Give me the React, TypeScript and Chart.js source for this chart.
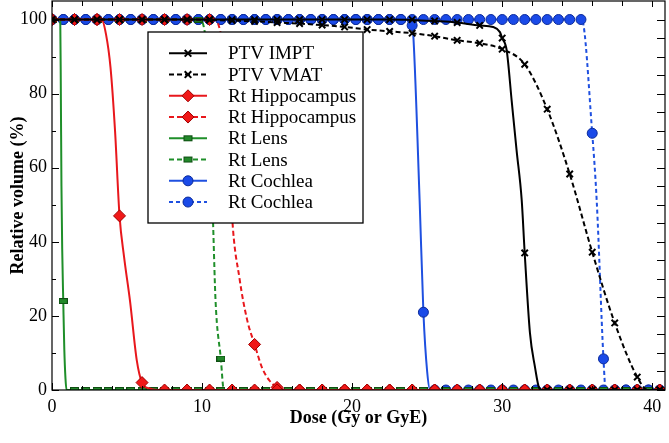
import React, { useEffect, useRef } from 'react';
import { Chart, registerables } from 'chart.js';

Chart.register(...registerables);

// ---------- data ----------
const seriesNames = ['PTV IMPT', 'PTV VMAT', 'Rt Hippocampus', 'Rt Hippocampus', 'Rt Lens', 'Rt Lens', 'Rt Cochlea', 'Rt Cochlea'];

// marker dose grids (Gy)
const grid15 = [0, 1.5, 3, 4.5, 6, 7.5, 9, 10.5, 12, 13.5, 15, 16.5, 18, 19.5, 21, 22.5, 24, 25.5, 27, 28.5, 30, 31.5, 33, 34.5, 36, 37.5, 39, 40.5];
const grid075 = [0, 0.75, 1.5, 2.25, 3, 3.75, 4.5, 5.25, 6, 6.75, 7.5, 8.25, 9, 9.75, 10.5, 11.25, 12, 12.75, 13.5, 14.25, 15, 15.75, 16.5, 17.25, 18, 18.75, 19.5, 20.25, 21, 21.75, 22.5, 23.25, 24, 24.75, 25.5, 26.25, 27, 27.75, 28.5, 29.25, 30, 30.75, 31.5, 32.25, 33, 33.75, 34.5, 35.25, 36, 36.75, 37.5, 38.25, 39, 39.75, 40.5];
const lensVmatMarkDose = [0, 1.5, 3, 4.5, 6, 7.5, 9, 9.75, 10.5, 11.25, 12, 13.5, 15, 16.5, 18, 19.5, 21, 22.5, 24, 25.5, 27, 28.5, 30, 31.5, 33, 34.5, 36, 37.5, 39, 40.5];

// marker volumes (%)
const ptvImptMarkVol = [100, 100, 100, 100, 100, 100, 100, 100, 100, 100, 100, 100, 100, 100, 100, 100, 100, 99.6, 99.2, 98.4, 95, 37, 0, 0, 0, 0, 0, 0];
const ptvVmatMarkVol = [100, 100, 100, 100, 100, 100, 100, 99.9, 99.7, 99.5, 99.2, 98.9, 98.5, 98.0, 97.3, 96.8, 96.3, 95.5, 94.4, 93.6, 92.0, 87.9, 75.8, 58.3, 37.2, 18.1, 3.5, 0];
const hipImptMarkVol = [100, 100, 100, 47, 2, 0, 0, 0, 0, 0, 0, 0, 0, 0, 0, 0, 0, 0, 0, 0, 0, 0, 0, 0, 0, 0, 0, 0];
const hipVmatMarkVol = [100, 100, 100, 100, 100, 100, 100, 100, 47, 12.3, 0.7, 0, 0, 0, 0, 0, 0, 0, 0, 0, 0, 0, 0, 0, 0, 0, 0, 0];
const lensImptMarkVol = [100, 24, 0, 0, 0, 0, 0, 0, 0, 0, 0, 0, 0, 0, 0, 0, 0, 0, 0, 0, 0, 0, 0, 0, 0, 0, 0, 0, 0, 0, 0, 0, 0, 0, 0, 0, 0, 0, 0, 0, 0, 0, 0, 0, 0, 0, 0, 0, 0, 0, 0, 0, 0, 0, 0];
const lensVmatMarkVol = [100, 100, 100, 100, 100, 100, 100, 100, 80, 8.5, 0, 0, 0, 0, 0, 0, 0, 0, 0, 0, 0, 0, 0, 0, 0, 0, 0, 0, 0, 0];
const cochImptMarkVol = [
  100, 100, 100, 100, 100, 100, 100, 100, 100, 100,
  100, 100, 100, 100, 100, 100, 100, 100, 100, 100,
  100, 100, 100, 100, 100, 100, 100, 100, 100, 100,
  100, 100, 98.4, 21, 0, 0, 0, 0, 0, 0,
  0, 0, 0, 0, 0, 0, 0, 0, 0, 0,
  0, 0, 0, 0, 0];
const cochVmatMarkVol = [
  100, 100, 100, 100, 100, 100, 100, 100, 100, 100,
  100, 100, 100, 100, 100, 100, 100, 100, 100, 100,
  100, 100, 100, 100, 100, 100, 100, 100, 100, 100,
  100, 100, 100, 100, 100, 100, 100, 100, 100, 100,
  100, 100, 100, 100, 100, 100, 100, 100, 69.3, 8.4,
  0, 0, 0, 0, 0];

// DVH curves
const ptvImptDose = [0, 22, 24, 25.5, 27, 28.5, 29.4, 29.85, 30.0, 30.3, 30.63, 30.96, 31.3, 31.5, 31.85, 32.18, 32.47, 32.7, 40.85];
const ptvImptVol = [100, 100, 99.9, 99.6, 99.2, 98.4, 98.0, 96.6, 95.0, 91.7, 78.2, 64.7, 51.3, 37, 15.4, 6.3, 0.5, 0, 0];
const ptvVmatDose = [0, 9, 10.5, 12, 13.5, 15, 16.5, 18, 19.5, 21, 22.5, 24, 25.5, 27, 28.5, 30, 31.5, 33, 34.5, 36, 37.5, 39, 39.7, 40.85];
const ptvVmatVol = [100, 100, 99.9, 99.7, 99.5, 99.2, 98.9, 98.5, 98.0, 97.3, 96.8, 96.3, 95.5, 94.4, 93.6, 92.0, 87.9, 75.8, 58.3, 37.2, 18.1, 3.5, 0, 0];
const hipImptDose = [0, 3.3, 3.6, 3.9, 4.2, 4.5, 4.8, 5.2, 5.65, 6.0, 6.5, 7.0, 40.85];
const hipImptVol = [100, 100, 96, 87, 70, 47, 36, 24, 8, 2, 0.4, 0, 0];
const hipVmatDose = [0, 10.8, 11.2, 11.6, 12.0, 12.5, 13.0, 13.5, 14.0, 14.5, 15.0, 15.5, 16.0, 40.85];
const hipVmatVol = [100, 100, 97, 85, 47, 30, 19, 12.3, 6, 2.5, 0.7, 0.1, 0, 0];
const lensImptDose = [0, 0.55, 0.59, 0.63, 0.68, 0.75, 0.82, 0.9, 0.97, 40.85];
const lensImptVol = [100, 100, 80, 55, 38, 24, 11, 3, 0, 0];
const lensVmatDose = [0, 9.8, 10.2, 10.5, 10.75, 10.9, 11.25, 11.45, 40.85];
const lensVmatVol = [100, 100, 96, 80, 43, 24, 8.5, 0, 0];
const cochImptDose = [0, 23.6, 23.9, 24.0, 24.07, 24.5, 24.75, 25.0, 25.2, 40.85];
const cochImptVol = [100, 100, 99.6, 98.4, 96.3, 51, 21, 5, 0, 0];
const cochVmatDose = [0, 35.3, 36.0, 36.3, 36.75, 36.9, 40.85];
const cochVmatVol = [100, 100, 69.3, 51, 8.4, 0, 0];

// axis ticks
const xTickMarks = [0, 2, 4, 6, 8, 10, 12, 14, 16, 18, 20, 22, 24, 26, 28, 30, 32, 34, 36, 38, 40];
const yLeftTickMarks = [0, 10, 20, 30, 40, 50, 60, 70, 80, 90, 100];
const yRightTickMarks = [0, 5, 10, 15, 20, 25, 30, 35, 40, 45, 50, 55, 60, 65, 70, 75, 80, 85, 90, 95, 100];

// ---------- styles ----------
const SERIF = '"Liberation Serif", "Times New Roman", serif';
const BLACK = '#000000';
const RED = '#e8171c';
const GREEN = '#1f8f2a';
const BLUE = '#1f50e0';

type Kind = 'cross' | 'diamond' | 'rect' | 'circle';
interface Style { color: string; dash: number[]; kind: Kind; fill: string; edge: string; }
const styles: Style[] = [
  { color: BLACK, dash: [], kind: 'cross', fill: BLACK, edge: BLACK },
  { color: BLACK, dash: [5, 3], kind: 'cross', fill: BLACK, edge: BLACK },
  { color: RED, dash: [], kind: 'diamond', fill: '#f01818', edge: '#a00000' },
  { color: RED, dash: [5, 3], kind: 'diamond', fill: '#f01818', edge: '#a00000' },
  { color: GREEN, dash: [], kind: 'rect', fill: '#22882a', edge: '#0e4f12' },
  { color: GREEN, dash: [5, 3], kind: 'rect', fill: '#22882a', edge: '#0e4f12' },
  { color: BLUE, dash: [], kind: 'circle', fill: '#1a4ae8', edge: '#0b2a9a' },
  { color: BLUE, dash: [4, 3], kind: 'circle', fill: '#1a4ae8', edge: '#0b2a9a' },
];

const curves = [
  [ptvImptDose, ptvImptVol], [ptvVmatDose, ptvVmatVol],
  [hipImptDose, hipImptVol], [hipVmatDose, hipVmatVol],
  [lensImptDose, lensImptVol], [lensVmatDose, lensVmatVol],
  [cochImptDose, cochImptVol], [cochVmatDose, cochVmatVol],
];
const marks = [
  [grid15, ptvImptMarkVol], [grid15, ptvVmatMarkVol],
  [grid15, hipImptMarkVol], [grid15, hipVmatMarkVol],
  [grid075, lensImptMarkVol], [lensVmatMarkDose, lensVmatMarkVol],
  [grid075, cochImptMarkVol], [grid075, cochVmatMarkVol],
];

function toXY(xs: number[], ys: number[]) {
  return xs.map((x, i) => ({ x, y: ys[i] }));
}

function makeRectImage(fill: string, edge: string) {
  const c = document.createElement('canvas');
  c.width = 9; c.height = 6;
  const g = c.getContext('2d')!;
  g.fillStyle = edge; g.fillRect(0, 0, 9, 6);
  g.fillStyle = fill; g.fillRect(1, 1, 7, 4);
  return c;
}

function drawMarker(ctx: CanvasRenderingContext2D, s: Style, x: number, y: number) {
  ctx.save();
  ctx.setLineDash([]);
  if (s.kind === 'cross') {
    const r = 3.3;
    ctx.strokeStyle = s.edge; ctx.lineWidth = 2;
    ctx.beginPath();
    ctx.moveTo(x - r, y - r); ctx.lineTo(x + r, y + r);
    ctx.moveTo(x + r, y - r); ctx.lineTo(x - r, y + r);
    ctx.stroke();
  } else if (s.kind === 'diamond') {
    const r = 6;
    ctx.fillStyle = s.fill; ctx.strokeStyle = s.edge; ctx.lineWidth = 1;
    ctx.beginPath();
    ctx.moveTo(x, y - r); ctx.lineTo(x + r, y); ctx.lineTo(x, y + r); ctx.lineTo(x - r, y); ctx.closePath();
    ctx.fill(); ctx.stroke();
  } else if (s.kind === 'rect') {
    ctx.fillStyle = s.edge; ctx.fillRect(x - 4.5, y - 3, 9, 6);
    ctx.fillStyle = s.fill; ctx.fillRect(x - 3.5, y - 2, 7, 4);
  } else {
    ctx.fillStyle = s.fill; ctx.strokeStyle = s.edge; ctx.lineWidth = 1;
    ctx.beginPath(); ctx.arc(x, y, 5, 0, Math.PI * 2); ctx.fill(); ctx.stroke();
  }
  ctx.restore();
}

const framePlugin = {
  id: 'frameTicks',
  afterDatasetsDraw(chart: any) {
    const { ctx, chartArea } = chart;
    const { left, right, top, bottom } = chartArea;
    const xs = chart.scales.x;
    const ys = chart.scales.y;
    ctx.save();
    ctx.strokeStyle = '#000';
    ctx.lineWidth = 1.2;
    ctx.setLineDash([]);
    ctx.strokeRect(left, top, right - left, bottom - top);
    ctx.lineWidth = 1;
    ctx.beginPath();
    for (const v of xTickMarks) {
      const px = Math.round(xs.getPixelForValue(v)) + 0.5;
      const major = v % 10 === 0;
      ctx.moveTo(px, bottom); ctx.lineTo(px, bottom - (major ? 7 : 4));
      ctx.moveTo(px, top); ctx.lineTo(px, top + (major ? 6 : 5));
    }
    for (const v of yLeftTickMarks) {
      const py = Math.round(ys.getPixelForValue(v)) + 0.5;
      const major = v % 20 === 0;
      ctx.moveTo(left, py); ctx.lineTo(left + (major ? 7 : 4), py);
    }
    for (const v of yRightTickMarks) {
      const py = Math.round(ys.getPixelForValue(v)) + 0.5;
      ctx.moveTo(right, py); ctx.lineTo(right - 8, py);
    }
    ctx.stroke();
    ctx.restore();
  },
};

const legendPlugin = {
  id: 'boxLegend',
  afterDraw(chart: any) {
    const ctx: CanvasRenderingContext2D = chart.ctx;
    const bx = 148, by = 32, bw = 215, bh = 191;
    ctx.save();
    ctx.fillStyle = '#ffffff';
    ctx.fillRect(bx, by, bw, bh);
    ctx.strokeStyle = '#000';
    ctx.lineWidth = 1.3;
    ctx.strokeRect(bx, by, bw, bh);
    ctx.font = `19px ${SERIF}`;
    ctx.textBaseline = 'middle';
    ctx.textAlign = 'left';
    seriesNames.forEach((name, i) => {
      const s = styles[i];
      const y = 53.3 + i * 21.25;
      ctx.save();
      ctx.strokeStyle = s.color;
      ctx.lineWidth = 2;
      ctx.setLineDash(s.dash);
      ctx.beginPath();
      ctx.moveTo(169, y); ctx.lineTo(207, y);
      ctx.stroke();
      ctx.restore();
      drawMarker(ctx, s, 188, y);
      ctx.fillStyle = '#000';
      ctx.fillText(name, 228, y + 1);
    });
    ctx.restore();
  },
};

export default function App() {
  const ref = useRef<HTMLCanvasElement>(null);
  useEffect(() => {
    if (!ref.current) return;
    const rectImg = makeRectImage(styles[4].fill, styles[4].edge);
    const datasets: any[] = [];
    styles.forEach((s, i) => {
      const [md, mv] = marks[i];
      const [cd, cv] = curves[i];
      const markerDs: any = {
        label: seriesNames[i] + ' markers',
        data: toXY(md, mv),
        showLine: false,
        pointRadius: s.kind === 'diamond' ? 6 : s.kind === 'circle' ? 5 : s.kind === 'cross' ? 4.5 : 4,
        pointHoverRadius: 0,
        pointBackgroundColor: s.fill,
        pointBorderColor: s.edge,
        pointBorderWidth: s.kind === 'cross' ? 2 : 1,
        pointStyle: s.kind === 'cross' ? 'crossRot' : s.kind === 'diamond' ? 'rectRot' : s.kind === 'rect' ? rectImg : 'circle',
        clip: 0,
      };
      const lineDs: any = {
        label: seriesNames[i],
        data: toXY(cd, cv),
        showLine: true,
        borderColor: s.color,
        borderWidth: 2,
        borderDash: s.dash,
        pointRadius: 0,
        pointHoverRadius: 0,
        fill: false,
        cubicInterpolationMode: 'monotone',
        clip: 0,
      };
      datasets.push(markerDs, lineDs);
    });

    const chart = new Chart(ref.current, {
      type: 'line',
      data: { datasets },
      plugins: [framePlugin, legendPlugin],
      options: {
        responsive: false,
        animation: false,
        devicePixelRatio: 1,
        events: [],
        layout: { autoPadding: false, padding: { top: 1, right: 4, left: 0, bottom: 0 } },
        plugins: { legend: { display: false }, tooltip: { enabled: false } },
        scales: {
          x: {
            type: 'linear',
            min: 0,
            max: 40.85,
            grid: { display: false, drawTicks: false },
            border: { display: false },
            ticks: { stepSize: 10, includeBounds: false, color: '#000', font: { family: SERIF, size: 18 }, padding: 6 },
            title: { display: true, text: 'Dose (Gy or GyE)', color: '#000', font: { family: SERIF, size: 18, weight: 'bold' }, padding: { top: 0, bottom: 14 } },
            afterFit: (scale: any) => { scale.height = 53; scale.paddingLeft = 0; scale.paddingRight = 0; },
          },
          y: {
            type: 'linear',
            min: 0,
            max: 105,
            grid: { display: false, drawTicks: false },
            border: { display: false },
            ticks: { stepSize: 20, includeBounds: false, color: '#000', font: { family: SERIF, size: 18 }, padding: 5 },
            title: { display: true, text: 'Relative volume (%)', color: '#000', font: { family: SERIF, size: 18, weight: 'bold' }, padding: { top: 8, bottom: 0 } },
            afterFit: (scale: any) => { scale.width = 52; scale.paddingTop = 0; scale.paddingBottom = 0; },
          },
        },
      } as any,
    });
    return () => chart.destroy();
  }, []);

  return (
    <div style={{ position: 'absolute', left: 0, top: 0, width: 669, height: 443, background: '#fff' }}>
      <canvas ref={ref} width={669} height={443} style={{ display: 'block', width: 669, height: 443 }} />
    </div>
  );
}
